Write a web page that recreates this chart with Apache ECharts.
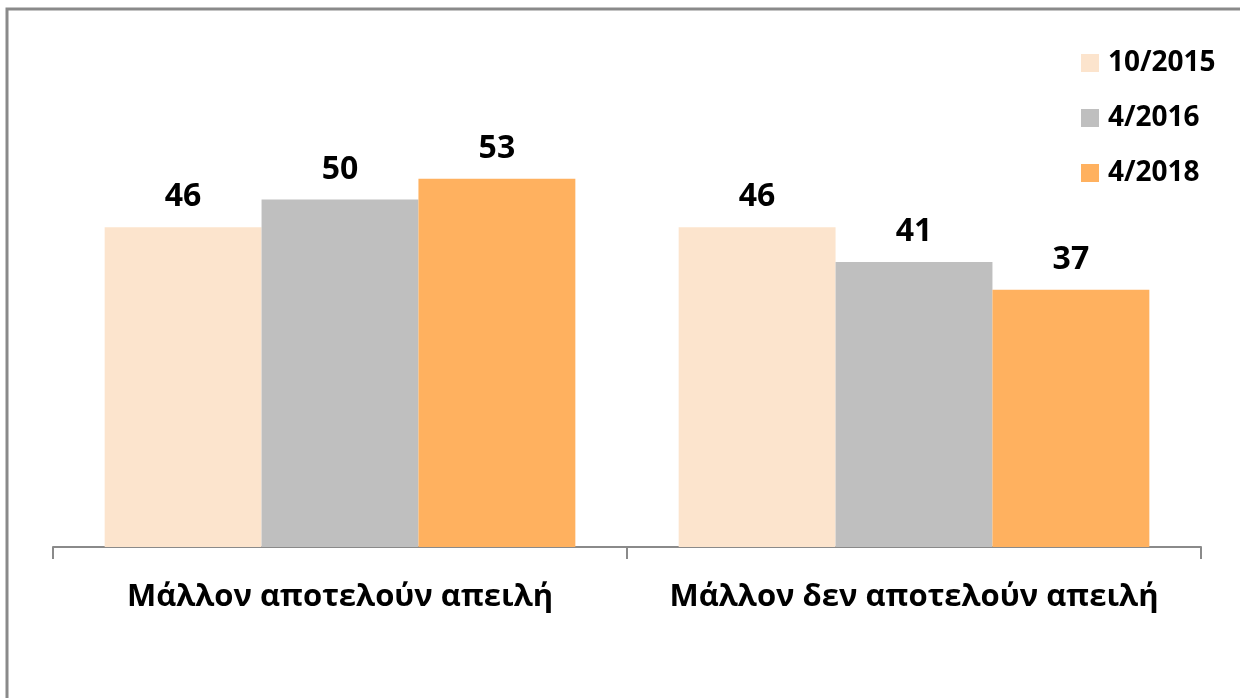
<!DOCTYPE html>
<html>
<head>
<meta charset="utf-8">
<script src="https://cdn.jsdelivr.net/npm/echarts@6/dist/echarts.min.js"></script>
<style>
  html, body { margin: 0; padding: 0; background: #fff; }
  #chart { width: 1240px; height: 698px; }
</style>
</head>
<body>
<div id="chart"></div>
<script>
// categories and series
var categories = ['Μάλλον αποτελούν απειλή', 'Μάλλον δεν αποτελούν απειλή']
var seriesNames = ['10/2015', '4/2016', '4/2018']
var values2015 = [46, 46]
var values2016 = [50, 41]
var values2018 = [53, 37]
var colors = ['#FCE4CD', '#BFBFBF', '#FFB15F']

var font = '"Open Sans", "DejaVu Sans", sans-serif'

var chart = echarts.init(document.getElementById('chart'))

function barSeries(name, data, color) {
  return {
    name: name,
    type: 'bar',
    data: data,
    barGap: '0%',
    barCategoryGap: '18%',
    itemStyle: { color: color },
    label: {
      show: true,
      position: 'top',
      distance: 14,
      color: '#000',
      fontFamily: font,
      fontWeight: 'bold',
      fontSize: 32
    }
  }
}

chart.setOption({
  animation: false,
  backgroundColor: '#fff',
  graphic: [{
    // outer frame
    type: 'rect',
    shape: { x: 7, y: 9, width: 1300, height: 800 },
    style: { fill: 'none', stroke: '#8a8a8a', lineWidth: 3 }
  }],
  legend: {
    orient: 'vertical',
    left: 1076,
    top: 44,
    itemWidth: 18,
    itemHeight: 18,
    itemGap: 27,
    icon: 'rect',
    data: seriesNames,
    textStyle: {
      color: '#000',
      fontFamily: font,
      fontWeight: 'bold',
      fontSize: 28,
      padding: [0, 0, 0, 4]
    }
  },
  grid: {
    left: 53,
    right: 39,
    top: 130,
    bottom: 151,
    containLabel: false
  },
  xAxis: {
    type: 'category',
    data: categories,
    axisLine: { lineStyle: { color: '#8a8a8a', width: 2 } },
    axisTick: { show: true, length: 12, lineStyle: { color: '#8a8a8a', width: 2 } },
    axisLabel: {
      interval: 0,
      color: '#000',
      fontFamily: font,
      fontWeight: 'bold',
      fontSize: 31,
      margin: 35
    }
  },
  yAxis: {
    type: 'value',
    min: 0,
    max: 60,
    show: false,
    splitLine: { show: false }
  },
  series: [
    barSeries(seriesNames[0], values2015, colors[0]),
    barSeries(seriesNames[1], values2016, colors[1]),
    barSeries(seriesNames[2], values2018, colors[2])
  ]
})
</script>
</body>
</html>
